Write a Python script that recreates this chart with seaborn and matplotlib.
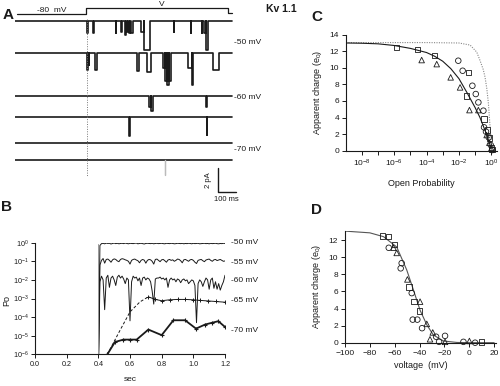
import numpy as np
import pandas as pd
import matplotlib
matplotlib.use("Agg")
import matplotlib.pyplot as plt
import seaborn as sns
from matplotlib.ticker import FixedLocator, FuncFormatter, LogFormatterSciNotation, NullLocator

# ---------------- data ----------------
# Panel A: single-channel openings per sweep (start s, end s, amplitude pA)
ev1_start = [0.398, 0.429, 0.554, 0.585, 0.603, 0.614, 0.626, 0.640, 0.694, 0.712, 0.875, 0.968, 1.027, 1.040, 1.050]
ev1_end   = [0.404, 0.433, 0.558, 0.589, 0.612, 0.622, 0.634, 0.650, 0.712, 0.743, 0.877, 0.971, 1.031, 1.050, 1.062]
ev1_amp   = [1.1, 1.1, 1.1, 0.95, 1.2, 0.95, 1.05, 1.1, 0.95, 2.5, 1.0, 1.1, 1.1, 1.1, 2.5]
ev2_start = [0.398, 0.406, 0.440, 0.670, 0.725, 0.813, 0.828, 0.838, 0.848, 0.952, 0.972, 1.090]
ev2_end   = [0.403, 0.410, 0.450, 0.684, 0.747, 0.828, 0.838, 0.848, 0.860, 0.972, 0.982, 1.123]
ev2_amp   = [1.45, 1.0, 1.45, 1.5, 1.6, 1.3, 2.4, 2.7, 2.4, 1.3, 2.75, 1.45]
ev3_start = [0.739, 0.748, 1.053]
ev3_end   = [0.748, 0.758, 1.057]
ev3_amp   = [1.0, 1.3, 1.0]
ev4_start = [0.627, 1.055]
ev4_end   = [0.631, 1.059]
ev4_amp   = [1.6, 1.55]
ev5_start, ev5_end, ev5_amp = [], [], []
ev6_start, ev6_end, ev6_amp = [0.826], [0.828], [1.3]
sweep_labels = ["-50 mV", "-60 mV", "-70 mV"]

# Panel B: log10(Po) sampled every 10 ms from 0.40 s
po50 = [-7, -0.15, -0.05, -0.03, -0.06, -0.02, -0.04, -0.03, -0.07, -0.04, -0.02, -0.05, -0.03, -0.06,
        -0.04, -0.03, -0.05, -0.02, -0.04, -0.06, -0.03, -0.04, -0.05, -0.03, -0.02, -0.06, -0.04, -0.03,
        -0.05, -0.07, -0.04, -0.03, -0.04, -0.05, -0.03, -0.06, -0.04, -0.03, -0.05, -0.04, -0.03, -0.05,
        -0.06, -0.03, -0.04, -0.05, -0.03, -0.04, -0.06, -0.05, -0.03, -0.04, -0.05, -0.03, -0.06, -0.04,
        -0.05, -0.03, -0.04, -0.06, -0.03, -0.05, -0.04, -0.03, -0.06, -0.05, -0.04, -0.03, -0.05, -0.04,
        -0.06, -0.03, -0.05, -0.04, -0.03, -0.05, -0.06, -0.04, -0.05, -0.03, -0.04]
po55 = [-7, -1.2, -0.95, -0.85, -1.1, -0.9, -0.88, -0.95, -1.05, -0.92, -0.87, -0.9, -0.98, -1.02,
        -0.9, -0.86, -0.88, -0.92, -0.95, -1.0, -1.15, -0.95, -0.9, -0.88, -0.93, -0.97, -1.08, -0.95,
        -0.9, -0.94, -1.1, -0.95, -0.9, -0.92, -1.0, -1.15, -0.9, -0.88, -0.95, -1.02, -0.92, -0.9,
        -0.97, -1.05, -0.93, -0.9, -0.95, -0.92, -1.0, -0.95, -0.88, -0.9, -0.97, -1.08, -0.92, -0.9,
        -0.95, -1.0, -0.92, -0.9, -0.95, -1.05, -1.12, -0.95, -0.92, -0.9, -0.97, -1.02, -0.93, -0.9,
        -0.88, -0.95, -1.0, -0.92, -0.9, -0.96, -0.93, -0.9, -0.95, -1.0, -0.98]
po60 = [-7, -2.1, -1.8, -2.0, -3.6, -1.9, -1.75, -2.4, -1.9, -1.8, -2.0, -2.3, -1.85, -1.75, -1.9,
        -1.8, -1.95, -2.2, -1.9, -2.0, -4.2, -2.1, -1.8, -1.9, -1.85, -2.05, -1.9, -2.3, -1.9, -1.85,
        -2.0, -1.9, -1.95, -2.1, -2.6, -3.3, -1.95, -1.9, -1.9, -1.85, -1.95, -1.9, -2.0, -1.9, -2.4,
        -2.0, -1.9, -2.0, -1.95, -2.1, -1.95, -2.0, -2.15, -2.0, -1.95, -2.05, -2.0, -2.2, -2.1, -2.0,
        -2.05, -2.3, -4.3, -2.2, -2.0, -2.1, -2.35, -2.1, -1.9, -2.0, -2.5, -2.0, -1.9, -2.45, -2.1,
        -2.5, -2.2, -2.55, -2.3, -2.1, -1.75]
t65_rise = [0.457, 0.537, 0.600, 0.663, 0.716]
po65_rise = [-6.0, -4.71, -3.72, -3.18, -2.91]
t65_plat = [0.716, 0.76, 0.80, 0.85, 0.90, 0.95, 1.00, 1.04, 1.09, 1.14, 1.20]
po65_plat = [-2.91, -3.05, -3.12, -3.07, -3.05, -3.05, -3.07, -3.10, -3.13, -3.16, -3.20]
t70 = [0.457, 0.505, 0.558, 0.600, 0.642, 0.716, 0.800, 0.874, 0.948, 1.017, 1.074, 1.120, 1.158, 1.200]
po70 = [-6.0, -5.34, -5.21, -5.21, -5.21, -4.67, -4.97, -4.17, -4.17, -4.62, -4.40, -4.30, -4.22, -4.53]
b_labels = ["-50 mV", "-55 mV", "-60 mV", "-65 mV", "-70 mV"]

# Panel C: apparent charge vs log10(open probability)
c_sq_lp = [-5.84, -4.57, -3.52, -1.42, -1.52, -0.45, -0.25, -0.12, 0.0, 0.04]
c_sq_q = [12.47, 12.22, 11.5, 9.45, 6.6, 3.8, 2.5, 1.5, 0.37, 0.15]
c_ci_lp = [-2.04, -1.77, -1.17, -0.96, -0.80, -0.49, -0.45, -0.33, -0.16, -0.04, 0.07]
c_ci_q = [10.86, 9.65, 7.84, 6.84, 5.83, 4.83, 2.82, 2.3, 1.6, 0.69, 0.08]
c_tr_lp = [-4.30, -3.37, -2.51, -1.93, -1.35, -0.80, -0.29, -0.12, 0.0]
c_tr_q = [10.94, 10.45, 8.85, 7.64, 4.9, 4.9, 1.89, 0.96, 0.28]
c_fit_lp = [-8.97, -8, -7, -6, -5, -4, -3.5, -3, -2.5, -2, -1.5, -1.0, -0.7, -0.5, -0.3, -0.15, 0.0]
c_fit_q = [13.0, 12.97, 12.9, 12.7, 12.35, 11.85, 11.4, 10.8, 9.9, 8.7, 7.0, 5.2, 4.0, 3.0, 2.0, 1.1, 0.2]
c_dot_lp = [-8.97, -4, -2, -1.31, -0.9, -0.7, -0.5, -0.39, -0.28, -0.18, -0.08, 0.02, 0.08]
c_dot_q = [13.05, 13.05, 13.0, 12.75, 11.9, 10.9, 9.8, 8.9, 7.5, 5.7, 2.9, 0.5, 0.0]

# Panel D: apparent charge vs voltage (mV)
d_sq_v = [-70, -65, -60.3, -48.7, -44.4, -40.2, 10]
d_sq_q = [12.5, 12.4, 11.5, 6.5, 4.8, 3.7, 0.05]
d_ci_v = [-64.8, -54.4, -55.2, -46.3, -45.5, -41.8, -38, -26.7, -19.5, -24.3, -4.7, 4.7]
d_ci_q = [11.1, 9.3, 8.7, 5.8, 2.7, 2.7, 1.7, 0.7, 0.8, 0.1, 0.1, 0.0]
d_tr_v = [-61, -58.4, -49.8, -39.6, -34.2, -29.4, -31.6, -19.5, 0.1]
d_tr_q = [11.1, 10.5, 7.4, 4.8, 2.2, 1.2, 0.4, 0.1, 0.2]
d_fit_v = [-100, -80, -69, -58.4, -50.3, -45, -39.6, -34.2, -28.9, -20.8, -10, 0, 20]
d_fit_q = [13.05, 12.85, 12.4, 11.2, 8.5, 6.2, 3.8, 2.1, 0.9, 0.2, 0.03, 0.0, 0.0]

# ---------------- style ----------------
sns.set_theme(style="ticks")
plt.rcParams["font.family"] = ["Liberation Sans", "DejaVu Sans"]
plt.rcParams["mathtext.default"] = "regular"
plt.rcParams["axes.linewidth"] = 0.8
INK = "#1a1a1a"
W, H = 500, 386
fig = plt.figure(figsize=(W / 100, H / 100), dpi=100)


def ax_px(x0, y0, x1, y1):
    return fig.add_axes([x0 / W, 1 - y1 / H, (x1 - x0) / W, (y1 - y0) / H])


def ftext(x, y, s, **kw):
    fig.text(x / W, 1 - y / H, s, **kw)


def style_axes(ax, lsize=6, pad=2):
    sns.despine(ax=ax)
    ax.tick_params(direction="out", length=3, width=0.7, labelsize=lsize, colors=INK, pad=pad)
    for s in ("left", "bottom"):
        ax.spines[s].set_color(INK)
    ax.set_facecolor("none")


# ---------------- panel A ----------------
PXPA = 11.6
axA = ax_px(15, 0, 233, 200)
axA.set_xlim(0, 1.2)
axA.set_ylim(200 / PXPA, 0)
axA.axis("off")
base_px = [20.7, 53.3, 95.7, 117.3, 143.3, 160.0]
events = [(ev1_start, ev1_end, ev1_amp), (ev2_start, ev2_end, ev2_amp), (ev3_start, ev3_end, ev3_amp),
          (ev4_start, ev4_end, ev4_amp), (ev5_start, ev5_end, ev5_amp), ([], [], [])]
for k, (st, en, am) in enumerate(events):
    xs, ys = [0.0], [0.0]
    for s, e, a in zip(st, en, am):
        xs += [s, s, e, e]
        ys += [0, a, a, 0]
    xs.append(1.195)
    ys.append(0)
    df = pd.DataFrame({"t": xs, "i": np.array(ys) + base_px[k] / PXPA})
    sns.lineplot(data=df, x="t", y="i", sort=False, estimator=None, color=INK, lw=1.2, ax=axA)
for s, e, a in zip(ev6_start, ev6_end, ev6_amp):
    df = pd.DataFrame({"t": [s, s, e, e], "i": np.array([0, a, a, 0]) + base_px[5] / PXPA})
    sns.lineplot(data=df, x="t", y="i", sort=False, estimator=None, color="#bbbbbb", lw=0.9, ax=axA)
# voltage protocol
proto_t = [0.01, 0.39, 0.39, 1.17, 1.17, 1.195]
proto_y = np.array([14, 14, 8.3, 8.3, 12.7, 12.7]) / PXPA
axA.plot(proto_t, proto_y, color=INK, lw=0.9, clip_on=False)
axA.plot([0.397, 0.397], [19 / PXPA, 176 / PXPA], color="#777777", lw=0.7, ls=(0, (1, 1.5)))
# scale bar
axA.plot([1.116, 1.116, 1.216], [168.3 / PXPA, 191.7 / PXPA, 191.7 / PXPA], color=INK, lw=1.0,
         clip_on=False)
ftext(52, 10, "-80  mV", fontsize=6, ha="center", va="center", color=INK)
ftext(162, 5, "V", fontsize=6, ha="center", va="center", color=INK)
ftext(281, 9, "Kv 1.1", fontsize=7.5, fontweight="bold", ha="center", va="center", color=INK)
for lab, yy in zip(sweep_labels, [43, 97.5, 149]):
    ftext(234, yy, lab, fontsize=6, ha="left", va="center", color=INK)
ftext(208, 180, "2 pA", fontsize=5.5, rotation=90, ha="center", va="center", color=INK)
ftext(226, 200, "100 ms", fontsize=5.5, ha="center", va="center", color=INK)

# ---------------- panel B ----------------
axB = ax_px(35, 242.7, 225, 354.3)
axB.set_yscale("log")
b_time = 0.40 + 0.01 * np.arange(len(po50))
for arr in (po50, po55, po60):
    n = len(arr)
    sns.lineplot(x=b_time[:n], y=10 ** np.array(arr), sort=False, estimator=None, color=INK,
                 lw=0.7, ax=axB)
sns.lineplot(x=t65_rise, y=10 ** np.array(po65_rise), sort=False, estimator=None, color=INK,
             lw=0.7, ax=axB, linestyle=(0, (3, 2)))
sns.lineplot(x=t65_plat, y=10 ** np.array(po65_plat), sort=False, estimator=None, color=INK,
             lw=0.7, ax=axB, marker="+", markersize=3.5, markeredgewidth=0.7, markeredgecolor=INK)
sns.lineplot(x=t70, y=10 ** np.array(po70), sort=False, estimator=None, color=INK,
             lw=1.3, ax=axB, marker="+", markersize=3.5, markeredgewidth=0.8, markeredgecolor=INK)
axB.plot([0.4, 0.4], [1e-6, 0.9], color="#999999", lw=0.7)
axB.set_xlim(0, 1.2)
axB.set_ylim(1e-6, 1)
axB.yaxis.set_major_locator(FixedLocator([1e-6, 1e-5, 1e-4, 1e-3, 1e-2, 1e-1, 1]))
axB.yaxis.set_major_formatter(LogFormatterSciNotation())
axB.yaxis.set_minor_locator(NullLocator())
axB.set_xticks([0.0, 0.2, 0.4, 0.6, 0.8, 1.0, 1.2])
axB.set_xticklabels(["0.0", "0.2", "0.4", "0.6", "0.8", "1.0", "1.2"])
style_axes(axB, lsize=5.2, pad=1.5)
axB.set_xlabel("sec", fontsize=6, color=INK, labelpad=6)
axB.set_ylabel("")
ftext(7, 300, "Po", fontsize=6.5, rotation=90, ha="center", va="center", color=INK)
for lab, yy in zip(b_labels, [243, 262, 281, 301, 330]):
    ftext(231, yy, lab, fontsize=6, ha="left", va="center", color=INK)

# ---------------- panel C ----------------
axC = ax_px(346, 34.7, 497, 150.7)
axC.set_xscale("log")
sns.lineplot(x=10 ** np.array(c_dot_lp), y=c_dot_q, sort=False, estimator=None, color="#888888",
             lw=0.8, linestyle=(0, (1, 1.2)), ax=axC)
sns.lineplot(x=10 ** np.array(c_fit_lp), y=c_fit_q, sort=False, estimator=None, color=INK,
             lw=0.8, ax=axC)
for lp, q, mk in ((c_sq_lp, c_sq_q, "s"), (c_ci_lp, c_ci_q, "o"), (c_tr_lp, c_tr_q, "^")):
    sns.scatterplot(x=10 ** np.array(lp), y=q, marker=mk, s=16, facecolors="none",
                    edgecolor=INK, linewidth=0.6, ax=axC, clip_on=False, zorder=3)
axC.set_xlim(10 ** -8.97, 10 ** 0.35)
axC.set_ylim(0, 14)
decades = [1e-8, 1e-7, 1e-6, 1e-5, 1e-4, 1e-3, 1e-2, 1e-1, 1]
axC.xaxis.set_major_locator(FixedLocator(decades))
_sci = LogFormatterSciNotation()
axC.xaxis.set_major_formatter(FuncFormatter(
    lambda v, p: _sci(v, p) if int(round(np.log10(v))) % 2 == 0 else ""))
axC.xaxis.set_minor_locator(NullLocator())
axC.set_yticks(range(0, 15, 2))
style_axes(axC)
axC.set_xlabel("Open Probability", fontsize=6.5, color=INK, labelpad=7)
axC.set_ylabel("Apparent charge (e$_0$)", fontsize=6.5, color=INK, labelpad=4)

# ---------------- panel D ----------------
axD = ax_px(345, 230.7, 496, 342.7)
sns.lineplot(x=d_fit_v, y=d_fit_q, sort=False, estimator=None, color="#555555", lw=0.8, ax=axD)
for v, q, mk in ((d_sq_v, d_sq_q, "s"), (d_ci_v, d_ci_q, "o"), (d_tr_v, d_tr_q, "^")):
    sns.scatterplot(x=v, y=q, marker=mk, s=16, facecolors="none", edgecolor=INK, linewidth=0.6,
                    ax=axD, clip_on=False, zorder=3)
axD.set_xlim(-100, 21.5)
axD.set_ylim(0, 13.1)
axD.set_xticks([-100, -80, -60, -40, -20, 0, 20])
axD.set_yticks([0, 2, 4, 6, 8, 10, 12])
style_axes(axD)
axD.set_xlabel("voltage  (mV)", fontsize=6.5, color=INK, labelpad=3)
axD.set_ylabel("Apparent charge (e$_0$)", fontsize=6.5, color=INK, labelpad=4)

# panel letters
for lab, x, y in (("A", 8, 15), ("B", 7, 207), ("C", 317, 17), ("D", 317, 210)):
    ftext(x, y, lab, fontsize=11, fontweight="bold", ha="center", va="center", color=INK)

fig.savefig("out.png", dpi=100)
